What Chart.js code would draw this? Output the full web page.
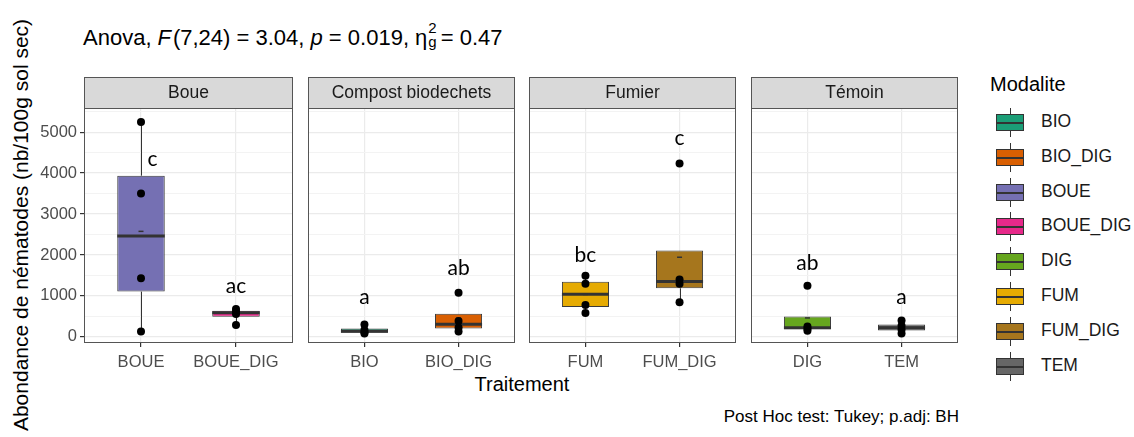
<!DOCTYPE html>
<html>
<head>
<meta charset="utf-8">
<script src="https://cdn.jsdelivr.net/npm/chart.js@4.4.1/dist/chart.umd.min.js"></script>
<style>
  body { margin: 0; background: #fff; }
  #wrap { position: relative; width: 1134px; height: 437px; overflow: hidden; background: #fff;
          font-family: "Liberation Sans", Arial, sans-serif; }
  #wrap canvas { position: absolute; }
  .title { position: absolute; left: 83px; top: 25px; font-size: 22px; color: #000; white-space: nowrap; }
  .ss { display: inline-flex; flex-direction: column; vertical-align: middle; font-size: 15px; line-height: 14px; margin: -8px 4px 0 1px; }
  .ytitle { position: absolute; left: -279px; top: 212px; width: 600px; height: 26px; line-height: 26px; text-align: center;
            font-size: 21px; color: #000; transform: rotate(-90deg); white-space: nowrap; }
  .xtitle { position: absolute; left: 422px; top: 373px; width: 200px; text-align: center; font-size: 20px; color: #000; }
  .caption { position: absolute; right: 175px; top: 407px; font-size: 17px; color: #000; white-space: nowrap; }
  .legend { position: absolute; left: 983px; top: 73px; }
  .legend .lt { font-size: 20px; color: #000; margin-left: 7px; height: 32px; }
  .legend .item { position: relative; height: 34.8px; }
  .legend .key { position: absolute; left: 13px; top: 3px; width: 28px; height: 29px; }
  .legend .wh { position: absolute; left: 13.5px; top: 0; width: 1px; height: 29px; background: #333; }
  .legend .bx { position: absolute; left: 0; top: 6px; width: 26px; height: 15px; border: 1px solid #333; }
  .legend .md { position: absolute; left: 0; top: 7px; width: 26px; height: 2px; background: #333; }
  .legend .lab { position: absolute; left: 58px; top: 6px; font-size: 17.5px; color: #1a1a1a; }
</style>
</head>
<body>
<div id="wrap">
  <div class="title">Anova, <i>F</i>&#8202;(7,24) = 3.04, <i>p</i> = 0.019, η<span class="ss"><span>2</span><span>g</span></span>= 0.47</div>
  <div class="ytitle">Abondance de nématodes (nb/100g sol sec)</div>
  <div class="xtitle">Traitement</div>
  <div class="caption">Post Hoc test: Tukey; p.adj: BH</div>
  <div class="legend" id="legend"><div class="lt">Modalite</div></div>
</div>
<script>
// facets and groups (one box per group)
const panels = ['Boue', 'Compost biodechets', 'Fumier', 'Témoin']
const panelGroups = [['BOUE', 'BOUE_DIG'], ['BIO', 'BIO_DIG'], ['FUM', 'FUM_DIG'], ['DIG', 'TEM']]
const groups = ['BOUE', 'BOUE_DIG', 'BIO', 'BIO_DIG', 'FUM', 'FUM_DIG', 'DIG', 'TEM']

// box statistics, same order as groups
const q1 = [1105, 492, 102, 205, 730, 1186, 187, 155]
const median = [2465, 590, 140, 310, 1040, 1350, 225, 225]
const q3 = [3937, 635, 202, 562, 1347, 2109, 500, 302]
const whiskerLow = [130, 290, 80, 130, 580, 845, 150, 80]
const whiskerHigh = [5250, 680, 300, 390, 1490, 1400, 250, 400]
const means = [2577, 538, 165, 457, 1037, 1945, 462, 232]

// raw observations (4 per group)
const observations = [
  [130, 1430, 3500, 5250],
  [290, 560, 620, 680],
  [80, 110, 170, 300],
  [130, 230, 390, 1080],
  [580, 780, 1300, 1490],
  [845, 1300, 1400, 4235],
  [150, 200, 250, 1250],
  [80, 180, 270, 400]
]

// Tukey letters
const letters = ['c', 'ac', 'a', 'ab', 'bc', 'c', 'ab', 'a']
const letterY = [4330, 1230, 980, 1680, 2000, 4850, 1810, 980]
const letterDx = [0.12, 0, 0, 0, 0, 0, 0, 0]

// labelled y ticks; minor grid lines sit halfway
const yTicks = [0, 1000, 2000, 3000, 4000, 5000]
const legendOrder = ['BIO', 'BIO_DIG', 'BOUE', 'BOUE_DIG', 'DIG', 'FUM', 'FUM_DIG', 'TEM']
const colors = {
  BIO: '#1B9E77', BIO_DIG: '#D95F02', BOUE: '#7570B3', BOUE_DIG: '#E7298A',
  DIG: '#66A61E', FUM: '#E6AB02', FUM_DIG: '#A6761D', TEM: '#666666'
}

// panel geometry (pixels)
const panelLeft = [84, 306, 527, 749]
const panelW = 211
const stripH = 31
const panelTop = 108
const panelBottom = 343
const yAxisW = 50
const xAxisH = 32

const font = '"Liberation Sans", Arial, sans-serif'
const isMajor = c => c.tick && yTicks.includes(c.tick.value)

// draws the facet strip, whiskers, medians, means, letters and border
const facetPlugin = {
  id: 'facet',
  beforeDraw(chart, args, opts) {
    const { ctx, chartArea } = chart
    ctx.save()
    ctx.fillStyle = '#D9D9D9'
    ctx.fillRect(chartArea.left, chartArea.top - stripH, chartArea.right - chartArea.left, stripH)
    ctx.strokeStyle = '#555'
    ctx.lineWidth = 1
    ctx.strokeRect(chartArea.left + 0.5, chartArea.top - stripH + 0.5, chartArea.right - chartArea.left - 1, stripH)
    ctx.fillStyle = '#1A1A1A'
    ctx.font = '17.5px ' + font
    ctx.textAlign = 'center'
    ctx.textBaseline = 'middle'
    ctx.fillText(panels[opts.panel], (chartArea.left + chartArea.right) / 2, chartArea.top - stripH / 2 + 1)
    ctx.restore()
  },
  beforeDatasetsDraw(chart, args, opts) {
    const { ctx, scales: { x, y } } = chart
    ctx.save()
    ctx.strokeStyle = '#333'
    ctx.lineWidth = 1
    panelGroups[opts.panel].forEach((g, k) => {
      const i = groups.indexOf(g)
      const px = Math.round(x.getPixelForValue(k + 1)) + 0.5
      ctx.beginPath()
      if (whiskerHigh[i] > q3[i]) {
        ctx.moveTo(px, y.getPixelForValue(q3[i]))
        ctx.lineTo(px, y.getPixelForValue(whiskerHigh[i]))
      }
      if (whiskerLow[i] < q1[i]) {
        ctx.moveTo(px, y.getPixelForValue(q1[i]))
        ctx.lineTo(px, y.getPixelForValue(whiskerLow[i]))
      }
      ctx.stroke()
    })
    ctx.restore()
  },
  afterDatasetDraw(chart, args, opts) {
    if (args.index !== 0) return
    const { ctx, scales: { y } } = chart
    const meta = chart.getDatasetMeta(0)
    ctx.save()
    panelGroups[opts.panel].forEach((g, k) => {
      const i = groups.indexOf(g)
      const bar = meta.data[k]
      const half = bar.width / 2
      const my = y.getPixelForValue(median[i])
      ctx.strokeStyle = '#333'
      ctx.lineWidth = 3
      ctx.beginPath()
      ctx.moveTo(bar.x - half, my)
      ctx.lineTo(bar.x + half, my)
      ctx.stroke()
      // mean marker
      const mean = y.getPixelForValue(means[i])
      ctx.lineWidth = 1.5
      ctx.beginPath()
      ctx.moveTo(bar.x - 2.5, mean)
      ctx.lineTo(bar.x + 2.5, mean)
      ctx.stroke()
    })
    ctx.restore()
  },
  afterDatasetsDraw(chart, args, opts) {
    const { ctx, chartArea, scales: { x, y } } = chart
    ctx.save()
    ctx.fillStyle = '#000'
    ctx.font = '21px Lato, "Open Sans", sans-serif'
    ctx.textAlign = 'center'
    ctx.textBaseline = 'middle'
    panelGroups[opts.panel].forEach((g, k) => {
      const i = groups.indexOf(g)
      ctx.fillText(letters[i], x.getPixelForValue(k + 1 + letterDx[i]), y.getPixelForValue(letterY[i]))
    })
    ctx.strokeStyle = '#555'
    ctx.lineWidth = 1
    ctx.strokeRect(chartArea.left + 0.5, chartArea.top + 0.5, chartArea.right - chartArea.left - 1, chartArea.bottom - chartArea.top - 1)
    ctx.restore()
  }
}

const wrap = document.getElementById('wrap')

panels.forEach((name, p) => {
  const yw = p === 0 ? yAxisW : 0
  const canvas = document.createElement('canvas')
  canvas.width = yw + panelW + 4
  canvas.height = 2 + stripH + (panelBottom - panelTop) + xAxisH
  canvas.style.left = (panelLeft[p] - yw - 2) + 'px'
  canvas.style.top = (panelTop - stripH - 2) + 'px'
  wrap.appendChild(canvas)

  const cats = panelGroups[p]
  const idx = cats.map(g => groups.indexOf(g))

  new Chart(canvas.getContext('2d'), {
    type: 'bar',
    data: {
      datasets: [{
        type: 'bar',
        data: idx.map((i, k) => ({ x: k + 1, y: [q1[i], q3[i]] })),
        backgroundColor: cats.map(g => colors[g]),
        borderColor: '#3a3a3a',
        borderWidth: 1,
        borderSkipped: false,
        categoryPercentage: 1,
        barPercentage: 0.5,
        order: 2
      }, {
        type: 'scatter',
        data: idx.flatMap((i, k) => observations[i].map(v => ({ x: k + 1, y: v }))),
        backgroundColor: '#000',
        borderColor: '#000',
        pointRadius: 4,
        pointBorderWidth: 0,
        order: 1
      }]
    },
    options: {
      responsive: false,
      devicePixelRatio: 1,
      animation: false,
      layout: { padding: { top: stripH + 2, left: 2, right: 2, bottom: 0 } },
      plugins: {
        legend: { display: false },
        tooltip: { enabled: false },
        facet: { panel: p }
      },
      scales: {
        x: {
          type: 'linear',
          offset: false,
          min: 0.4,
          max: 2.6,
          afterBuildTicks: scale => { scale.ticks = cats.map((c, k) => ({ value: k + 1 })) },
          afterFit: scale => { scale.height = xAxisH },
          border: { display: false },
          grid: { offset: false, color: '#EBEBEB', lineWidth: 1.2, tickColor: '#333', tickLength: 4 },
          ticks: {
            autoSkip: false,
            maxRotation: 0,
            padding: 6,
            color: '#4D4D4D',
            font: { family: font, size: 16.5 },
            callback: v => cats[v - 1]
          }
        },
        y: {
          type: 'linear',
          position: 'left',
          min: -150,
          max: 5590,
          afterBuildTicks: scale => { scale.ticks = yTicks.flatMap(v => [{ value: v }, { value: v + 500 }]) },
          afterFit: scale => { scale.width = yw },
          border: { display: false },
          grid: {
            color: c => isMajor(c) ? '#EBEBEB' : '#F3F3F3',
            lineWidth: c => isMajor(c) ? 1.2 : 1,
            tickColor: c => isMajor(c) ? '#333' : 'rgba(0,0,0,0)',
            tickLength: 4,
            drawTicks: p === 0
          },
          ticks: {
            display: p === 0,
            autoSkip: false,
            padding: 3,
            color: '#4D4D4D',
            font: { family: font, size: 16.5 },
            callback: v => yTicks.includes(v) ? String(v) : ''
          }
        }
      }
    },
    plugins: [facetPlugin]
  })
})

// legend (boxplot keys)
const legend = document.getElementById('legend')
legendOrder.forEach(g => {
  const item = document.createElement('div')
  item.className = 'item'
  item.innerHTML = '<div class="key"><div class="wh"></div><div class="bx" style="background:' + colors[g] +
    '"><div class="md"></div></div></div><div class="lab">' + g + '</div>'
  legend.appendChild(item)
})
</script>
</body>
</html>
